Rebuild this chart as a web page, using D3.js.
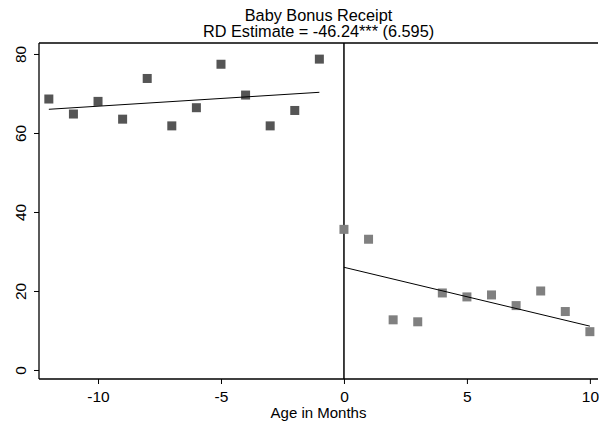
<!DOCTYPE html>
<html>
<head>
<meta charset="utf-8">
<script src="https://cdn.jsdelivr.net/npm/d3@7"></script>
<style>
  html, body { margin: 0; padding: 0; background: #fff; }
  svg { display: block; font-family: "Liberation Sans", Arial, Helvetica, sans-serif; }
</style>
</head>
<body>
<svg id="chart" width="599" height="425"></svg>
<script>
// ---- data ----
const titleLines = ["Baby Bonus Receipt", "RD Estimate = -46.24*** (6.595)"];
const xLabel = "Age in Months";
const xTicks = [-10, -5, 0, 5, 10];
const yTicks = [0, 20, 40, 60, 80];

const monthsBefore = [-12, -11, -10, -9, -8, -7, -6, -5, -4, -3, -2, -1];
const valuesBefore = [68.6, 64.8, 68.0, 63.5, 73.8, 61.8, 66.4, 77.4, 69.6, 61.8, 65.7, 78.7];
const monthsAfter = [0, 1, 2, 3, 4, 5, 6, 7, 8, 9, 10];
const valuesAfter = [35.6, 33.1, 12.7, 12.2, 19.5, 18.5, 19.0, 16.3, 20.0, 14.8, 9.7];

const fitBeforeX = [-12, -1];
const fitBeforeY = [66.0, 70.3];
const fitAfterX = [0, 10];
const fitAfterY = [26.0, 11.1];

const cutoff = 0;

// ---- layout ----
const svg = d3.select("#chart");
const mLeft = 39, mRight = 598, mTop = 43, mBottom = 379;

const x = d3.scaleLinear().domain([-12.4, 10.33]).range([mLeft, mRight]);
const y = d3.scaleLinear().domain([-2.28, 82.78]).range([mBottom, mTop]);

// top border
svg.append("line").attr("x1", mLeft).attr("x2", mRight).attr("y1", mTop).attr("y2", mTop)
  .attr("stroke", "#000").attr("stroke-width", 1.3);

// y axis
const yAxis = d3.axisLeft(y).tickValues(yTicks).tickSize(5).tickSizeOuter(0)
  .tickFormat(d => String(d));
const gy = svg.append("g").attr("transform", `translate(${mLeft},0)`).call(yAxis);
gy.select(".domain").attr("stroke", "#000").attr("stroke-width", 1.3)
  .attr("d", `M0,${mTop}V${mBottom}`);
gy.selectAll(".tick line").attr("stroke", "#000").attr("stroke-width", 1);
gy.selectAll(".tick text")
  .attr("font-size", 15.5).attr("fill", "#000")
  .attr("transform", "rotate(-90)")
  .attr("x", 0).attr("y", -13).attr("dy", 0)
  .attr("text-anchor", "middle");

// x axis
const xAxis = d3.axisBottom(x).tickValues(xTicks).tickSize(5).tickSizeOuter(0)
  .tickFormat(d => String(d));
const gx = svg.append("g").attr("transform", `translate(0,${mBottom})`).call(xAxis);
gx.select(".domain").attr("stroke", "#000").attr("stroke-width", 1.3)
  .attr("d", `M${mLeft},0H${mRight}`);
gx.selectAll(".tick line").attr("stroke", "#000").attr("stroke-width", 1);
gx.selectAll(".tick text").attr("font-size", 15.5).attr("fill", "#000")
  .attr("y", 8).attr("dy", "0.95em");

// cutoff line
svg.append("line")
  .attr("x1", x(cutoff)).attr("x2", x(cutoff)).attr("y1", mTop).attr("y2", mBottom)
  .attr("stroke", "#000").attr("stroke-width", 1.5);

// markers
const ms = 9;
svg.append("g").selectAll("rect").data(monthsBefore.map((m, i) => [m, valuesBefore[i]]))
  .join("rect")
  .attr("x", d => x(d[0]) - ms / 2).attr("y", d => y(d[1]) - ms / 2)
  .attr("width", ms).attr("height", ms).attr("fill", "#555555");
svg.append("g").selectAll("rect").data(monthsAfter.map((m, i) => [m, valuesAfter[i]]))
  .join("rect")
  .attr("x", d => x(d[0]) - ms / 2).attr("y", d => y(d[1]) - ms / 2)
  .attr("width", ms).attr("height", ms).attr("fill", "#808080");

// fit lines
const line = d3.line().x(d => x(d[0])).y(d => y(d[1]));
svg.append("path").datum(fitBeforeX.map((v, i) => [v, fitBeforeY[i]]))
  .attr("d", line).attr("fill", "none").attr("stroke", "#000").attr("stroke-width", 1);
svg.append("path").datum(fitAfterX.map((v, i) => [v, fitAfterY[i]]))
  .attr("d", line).attr("fill", "none").attr("stroke", "#000").attr("stroke-width", 1);

// title
const cx = (mLeft + mRight) / 2;
svg.append("text").attr("x", cx).attr("y", 20.5).attr("text-anchor", "middle")
  .attr("font-size", 16.3).attr("fill", "#000").text(titleLines[0]);
svg.append("text").attr("x", cx).attr("y", 37.2).attr("text-anchor", "middle")
  .attr("font-size", 16.3).attr("fill", "#000").text(titleLines[1]);

// x label
svg.append("text").attr("x", cx).attr("y", 418).attr("text-anchor", "middle")
  .attr("font-size", 15).attr("fill", "#000").text(xLabel);
</script>
</body>
</html>
